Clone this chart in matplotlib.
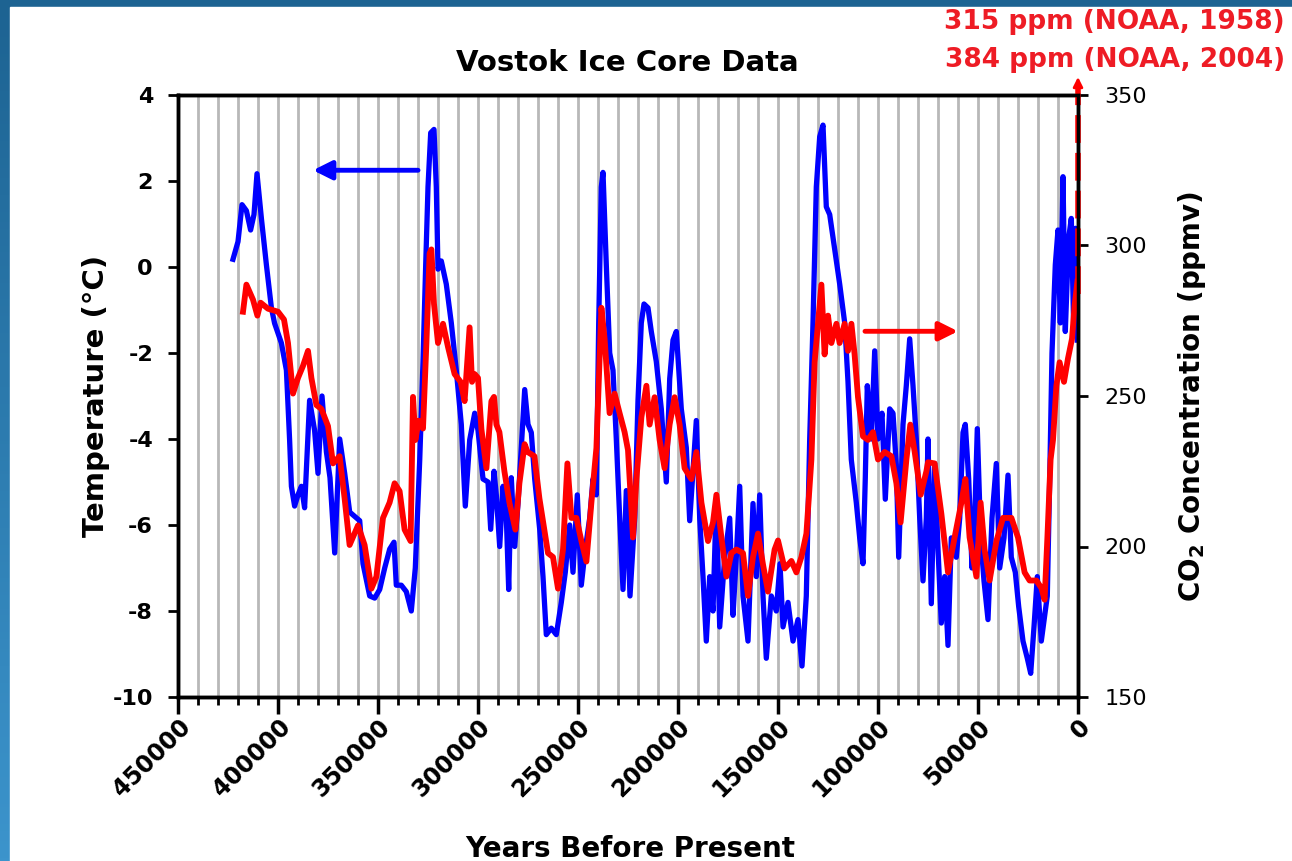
import numpy as np
import matplotlib.pyplot as plt
from matplotlib.colors import LinearSegmentedColormap
from matplotlib.patches import Rectangle

plt.rcParams['font.family'] = ['DejaVu Sans']
plt.rcParams['axes.unicode_minus'] = False
plt.rcParams['mathtext.default'] = 'regular'

# temperature (deg C)
temp_years = [422500, 420000, 418000, 415800, 413700, 412000, 410500, 408300, 405800, 403300,
              401700, 398300, 395800, 394200, 393300, 391700, 390000, 388300, 386700, 384200,
              381700, 380000, 378000, 375800, 374000, 371650, 369150, 366650, 364150, 361650,
              359150, 357500, 354150, 351650, 349150, 346650, 344150, 342000, 340850, 338350,
              335850, 333350, 331350, 329150, 327500, 326150, 325000, 323650, 322000, 320850,
              320000, 318350, 315850, 313350, 310850, 308350, 306350, 304150, 301650, 300000,
              297500, 295000, 293650, 292000, 290850, 289150, 287500, 285850, 284650, 283350,
              281650, 280000, 278350, 276650, 275000, 273350, 271650, 269150, 267500, 265850,
              263350, 260850, 258350, 256350, 254150, 252500, 250350, 248350, 246350, 244150,
              242500, 240850, 239650, 238350, 237500, 235850, 234150, 232500, 230850, 229150,
              227500, 225850, 224000, 221650, 220000, 218350, 217000, 215000, 213350, 210850,
              208350, 205850, 204150, 202500, 200850, 198350, 195850, 194150, 192500, 190850,
              189150, 187500, 185850, 184150, 182500, 180850, 179150, 176650, 174150, 172500,
              170850, 169150, 167500, 165000, 162500, 160850, 159150, 157500, 155850, 153350,
              150850, 149000, 147500, 145000, 142500, 140000, 138000, 135850, 134150, 132500,
              130850, 129150, 127500, 125850, 124150, 122500, 120850, 119150, 116650, 115000,
              113350, 110850, 109150, 107500, 106350, 105350, 103350, 101650, 100000, 98000,
              96350, 94150, 92500, 90850, 89650, 87500, 85850, 84150, 82500, 80850,
              79150, 77500, 75850, 75000, 74000, 73350, 71650, 70000, 68350, 66650,
              65000, 63350, 60850, 59150, 57500, 56350, 54650, 53000, 51650, 50350,
              48650, 47000, 45000, 43000, 40850, 39150, 37000, 35000, 33350, 31350,
              29650, 27500, 25350, 23650, 22000, 20350, 18350, 16650, 15350, 14150,
              13000, 11350, 10000, 8850, 7500, 6350, 4650, 3350, 2200, 1200, 350]
temp_c = [0.18, 0.59, 1.45, 1.31, 0.86, 1.22, 2.17, 1.13, 0.05, -0.95,
          -1.31, -1.77, -2.4, -4.02, -5.1, -5.56, -5.3, -5.1, -5.6, -3.1,
          -3.8, -4.8, -3.0, -4.3, -4.9, -6.65, -4.0, -4.8, -5.7, -5.8,
          -5.9, -6.9, -7.65, -7.7, -7.5, -7.0, -6.56, -6.4, -7.4, -7.4,
          -7.55, -8.0, -7.0, -4.5, -2.2, 0.05, 1.86, 3.12, 3.2, 1.86,
          -0.05, 0.14, -0.4, -1.3, -2.4, -3.66, -5.56, -4.02, -3.4, -3.8,
          -4.93, -5.0, -6.1, -4.75, -5.3, -6.5, -5.1, -5.8, -7.5, -4.9,
          -6.5, -5.5, -4.2, -2.85, -3.66, -3.85, -4.93, -6.1, -7.2, -8.55,
          -8.4, -8.55, -7.8, -7.1, -6.0, -7.1, -5.3, -7.4, -6.56, -5.84,
          -4.93, -5.3, -1.3, 1.86, 2.2, 0.05, -2.0, -2.4, -4.0, -5.84,
          -7.5, -5.2, -7.65, -5.84, -3.1, -1.3, -0.86, -0.95, -1.5, -2.2,
          -3.3, -5.0, -2.6, -1.7, -1.5, -3.3, -4.2, -5.9, -4.75, -3.57,
          -5.84, -7.2, -8.7, -7.2, -8.0, -5.4, -8.37, -6.75, -5.84, -8.1,
          -6.75, -5.1, -7.65, -8.7, -5.5, -7.2, -5.3, -7.65, -9.1, -7.65,
          -8.0, -6.9, -8.37, -7.8, -8.7, -8.2, -9.28, -7.65, -4.0, -1.3,
          1.86, 3.03, 3.3, 1.4, 1.22, 0.68, 0.14, -0.4, -1.3, -2.67,
          -4.48, -5.48, -6.3, -6.9, -4.9, -2.76, -4.0, -1.95, -4.0, -3.4,
          -5.4, -3.3, -3.4, -4.6, -6.75, -3.66, -2.76, -1.67, -2.76, -4.0,
          -5.84, -7.3, -5.84, -4.0, -6.3, -7.83, -4.57, -6.56, -8.28, -7.2,
          -8.8, -6.3, -6.75, -5.84, -3.85, -3.66, -4.93, -7.0, -5.84, -3.76,
          -6.3, -7.3, -8.2, -5.84, -4.57, -7.0, -6.3, -4.84, -6.75, -7.1,
          -7.9, -8.7, -9.1, -9.45, -8.37, -7.2, -8.7, -8.1, -7.65, -4.93,
          -2.0, 0.05, 0.86, -1.3, 2.1, -1.5, 0.68, 1.13, -1.3, 0.9, -1.7]

# CO2 (ppmv)
co2_years = [417500, 415800, 414200, 412500, 410300, 408700, 405000, 400000, 397000, 395000,
             392500, 390000, 387500, 385000, 383300, 380800, 378300, 375000, 372500, 369200,
             366700, 364200, 360000, 356700, 353300, 350800, 347500, 344200, 341700, 339200,
             336700, 333700, 332500, 331300, 329700, 327500, 325800, 324200, 323300, 322000,
             320000, 317500, 315000, 311700, 308700, 306700, 304200, 303000, 301700, 300000,
             298300, 295800, 293300, 292000, 290800, 289300, 286800, 284300, 281300, 279300,
             276700, 275200, 271800, 269300, 265000, 262500, 260000, 257500, 255300, 253300,
             250800, 248300, 245800, 243300, 240800, 238300, 236700, 234200, 231700, 229200,
             226700, 225000, 222500, 220800, 218300, 215800, 214200, 211700, 209200, 206700,
             204200, 201700, 199200, 196700, 193300, 190800, 188300, 185000, 182500, 180800,
             178300, 175800, 173300, 170800, 167500, 165000, 162500, 160000, 157500, 155000,
             151700, 150000, 146700, 143300, 140800, 138300, 135800, 133300, 131700, 130000,
             128300, 126700, 125000, 123300, 120800, 119200, 116700, 115000, 113300, 111700,
             110000, 107500, 105000, 102500, 100000, 96700, 93300, 90800, 88700, 85800,
             83850, 81650, 78650, 75800, 75000, 71700, 68300, 65000, 61700, 58300,
             56300, 54200, 50800, 48700, 46700, 44200, 40800, 37500, 33300, 30000,
             26700, 24200, 20800, 18300, 16700, 15300, 13700, 12500, 10800, 9200,
             7000, 5000, 3000, 1700, 300]
co2_ppm = [278, 287, 284.6, 282, 276.7, 281, 279, 278, 275.4, 267.6,
           250.8, 256, 260, 265, 256, 247, 245.7, 240, 227.6, 230,
           216, 200.5, 207, 200.5, 186, 190, 209.5, 214.6, 221, 218.4,
           205.6, 201.8, 249.7, 235.4, 241.8, 239.2, 267.6, 297.4, 298.7, 280.6,
           267.6, 274, 266.3, 257.3, 254.7, 248.3, 272.8, 254.7, 257.3, 256,
           239, 226, 248.3, 249.7, 240.5, 238, 225, 214.6, 205.6, 221,
           234, 231.4, 230, 216, 197.8, 196.5, 186, 199, 227.6, 209.5,
           209.5, 201.8, 195, 214.6, 232.7, 279.3, 269, 244.3, 250.8, 244.3,
           238, 232, 203, 222.4, 243, 253.4, 240.5, 249.6, 235.4, 226,
           240.5, 249.6, 240.5, 226, 222.4, 231.4, 214.6, 201.8, 208, 217.2,
           203, 190, 197.8, 199, 197.8, 183.6, 196.5, 204.3, 194, 185,
           199, 202, 192.7, 195.2, 191.4, 196.5, 204.3, 228.9, 261.2, 274,
           287, 263.8, 276.7, 267.6, 274, 267.6, 274, 265, 274, 263.8,
           249.6, 236.6, 235.4, 238, 228.9, 231.4, 230, 221, 208, 228.9,
           240.5, 231.4, 217.2, 225, 228, 227.6, 210.8, 191.4, 203, 214.6,
           222.4, 203, 190, 214.6, 199, 188.7, 201.8, 209.5, 209.5, 203,
           191.4, 188.7, 188.7, 186.2, 182.3, 203, 228.9, 235.4, 253.4, 261.2,
           254.7, 262.5, 269, 280, 288]

# modern rise drawn as dashed arrow at year 0 (clipped at top of frame)
modern_rise_ppm = [284, 356]
noaa_notes = ['315 ppm (NOAA, 1958)', '384 ppm (NOAA, 2004)']

# axis pointer arrows: (from year, to year, level)
temp_arrow = (330000, 382500, 2.25)
co2_arrow = (106500, 60000, 271.5)

W, H = 1292, 861
fig = plt.figure(figsize=(W / 100, H / 100), dpi=100)

# blue frame with white sheet
bg = fig.add_axes([0, 0, 1, 1], zorder=-10)
frame_cmap = LinearSegmentedColormap.from_list('frame', ['#1d6392', '#3c94cc'])
bg.imshow(np.linspace(0, 1, 256).reshape(-1, 1), aspect='auto', cmap=frame_cmap,
          extent=[0, 1, 0, 1], origin='upper')
bg.add_patch(Rectangle((10 / W, 0), 1, 1 - 7 / H, color='white', transform=bg.transAxes))
bg.set_xlim(0, 1)
bg.set_ylim(0, 1)
bg.axis('off')

ax = fig.add_axes([178 / W, 1 - 697 / H, 900 / W, 602 / H])
ax.set_facecolor('white')
ax.set_xlim(450000, 0)
ax.set_ylim(-10, 4)
ax.set_xticks(np.arange(0, 450001, 50000))
ax.set_xticks(np.arange(0, 450001, 10000), minor=True)
ax.set_xticklabels([str(v) for v in np.arange(0, 450001, 50000)], rotation=45,
                   ha='right', va='top', rotation_mode='anchor', fontsize=17, fontweight='bold')
ax.set_yticks(np.arange(-10, 5, 2))
ax.set_yticklabels([str(v) for v in np.arange(-10, 5, 2)], fontsize=16, fontweight='bold')
ax.xaxis.grid(True, which='both', color='#b8b8b8', lw=2)
ax.set_axisbelow(True)
ax.tick_params(axis='x', which='major', direction='out', length=12, width=2.5, pad=1)
ax.tick_params(axis='x', which='minor', direction='out', length=6, width=2)
ax.tick_params(axis='y', direction='out', length=7, width=2, pad=11)
for s in ax.spines.values():
    s.set_linewidth(2.5)

ax.plot(temp_years, temp_c, color='#0000ff', lw=3.8, solid_joinstyle='round')
ax.annotate('', xy=(temp_arrow[1], temp_arrow[2]), xytext=(temp_arrow[0], temp_arrow[2]),
            arrowprops=dict(arrowstyle='-|>', color='#0000ff', lw=3.5, mutation_scale=28,
                            shrinkA=0, shrinkB=0))
ax.set_ylabel('Temperature (°C)', fontsize=21, fontweight='bold', labelpad=2)

ax2 = ax.twinx()
ax2.set_ylim(150, 350)
ax2.set_yticks(np.arange(150, 351, 50))
ax2.set_yticklabels([str(v) for v in np.arange(150, 351, 50)], fontsize=16)
ax2.tick_params(axis='y', direction='out', length=7, width=2, pad=12)
for s in ax2.spines.values():
    s.set_linewidth(2.5)
ax2.plot(co2_years, co2_ppm, color='#ff0000', lw=4.2, solid_joinstyle='round')
ax2.plot([0, 0], [modern_rise_ppm[0], modern_rise_ppm[1] - 4], color='#ff0000', lw=4,
         ls=(0, (5, 1.8)), clip_on=False)
ax2.annotate('', xy=(0, modern_rise_ppm[1]), xytext=(0, modern_rise_ppm[1] - 5),
             arrowprops=dict(arrowstyle='-|>', color='#ff0000', lw=2, mutation_scale=14,
                             shrinkA=0, shrinkB=0), annotation_clip=False)
ax2.annotate('', xy=(co2_arrow[1], co2_arrow[2]), xytext=(co2_arrow[0], co2_arrow[2]),
             arrowprops=dict(arrowstyle='-|>', color='#ff0000', lw=3.5, mutation_scale=28,
                             shrinkA=0, shrinkB=0))
ax2.set_ylabel('CO$_2$ Concentration (ppmv)', fontsize=20, fontweight='bold', labelpad=21)

fig.text(627 / W, 1 - 63 / H, 'Vostok Ice Core Data', ha='center', va='center',
         fontsize=21, fontweight='bold')
fig.text(630 / W, 1 - 857 / H, 'Years Before Present', ha='center', va='baseline',
         fontsize=20, fontweight='bold')
fig.text(1285 / W, 1 - 22 / H, noaa_notes[0], ha='right', va='center', color='#ee1c25',
         fontsize=19, fontweight='bold')
fig.text(1285 / W, 1 - 60 / H, noaa_notes[1], ha='right', va='center', color='#ee1c25',
         fontsize=19, fontweight='bold')

fig.savefig('out.png', dpi=100)
